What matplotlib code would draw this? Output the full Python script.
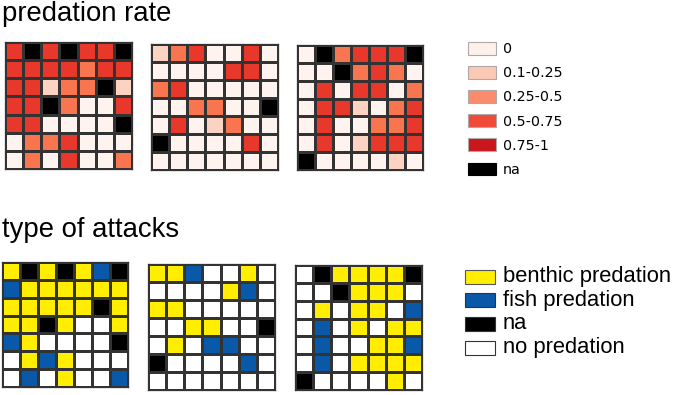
import matplotlib
matplotlib.use("Agg")
import matplotlib.pyplot as plt
from matplotlib.colors import ListedColormap, BoundaryNorm
from matplotlib.patches import Rectangle
import numpy as np

W, H = 674, 395

# predation rate classes: 0='0', 1='0.1-0.25', 2='0.25-0.5', 3='0.5-0.75', 4='0.75-1', 5='na'
rate_labels = ["0", "0.1-0.25", "0.25-0.5", "0.5-0.75", "0.75-1", "na"]
rate_grid_colors = ["#fef3ee", "#fcd3c2", "#f8754f", "#e8382b", "#c8161d", "#000000"]
rate_legend_colors = ["#fef0ea", "#fcc9b5", "#fb8b6d", "#f04a38", "#c9171d", "#000000"]

rate_1 = [
    [3, 5, 3, 5, 3, 3, 5],
    [3, 3, 3, 3, 2, 3, 3],
    [3, 3, 1, 2, 2, 5, 1],
    [3, 3, 5, 2, 0, 0, 3],
    [3, 3, 0, 0, 0, 0, 5],
    [0, 2, 2, 3, 0, 0, 0],
    [0, 2, 0, 3, 0, 0, 2],
]
rate_2 = [
    [1, 2, 3, 0, 0, 3, 0],
    [0, 0, 0, 0, 3, 3, 0],
    [2, 3, 0, 0, 0, 0, 0],
    [0, 0, 2, 2, 0, 0, 5],
    [0, 3, 0, 1, 2, 0, 0],
    [5, 0, 0, 0, 0, 3, 0],
    [0, 0, 0, 0, 0, 0, 0],
]
rate_3 = [
    [0, 5, 2, 3, 3, 3, 5],
    [0, 0, 5, 2, 3, 2, 0],
    [0, 3, 0, 3, 3, 0, 2],
    [0, 3, 3, 1, 0, 2, 3],
    [0, 3, 0, 0, 2, 2, 3],
    [0, 3, 0, 1, 3, 3, 3],
    [5, 0, 0, 0, 0, 1, 0],
]

# type of attack: 0=no predation, 1=benthic, 2=fish, 3=na
attack_labels = ["no predation", "benthic predation", "fish predation", "na"]
attack_colors = ["#ffffff", "#ffee00", "#0a58a8", "#000000"]
attack_legend_order = [1, 2, 3, 0]

attack_1 = [
    [1, 3, 1, 3, 1, 2, 3],
    [2, 1, 1, 1, 1, 1, 1],
    [1, 1, 1, 1, 1, 3, 1],
    [1, 1, 3, 1, 0, 0, 1],
    [2, 1, 0, 0, 0, 0, 3],
    [0, 1, 2, 1, 0, 0, 0],
    [0, 2, 0, 1, 0, 0, 2],
]
attack_2 = [
    [1, 1, 2, 0, 0, 1, 0],
    [0, 0, 0, 0, 1, 2, 0],
    [1, 1, 0, 0, 0, 0, 0],
    [0, 0, 1, 1, 0, 0, 3],
    [0, 1, 0, 2, 2, 0, 0],
    [3, 0, 0, 0, 0, 2, 0],
    [0, 0, 0, 0, 0, 0, 0],
]
attack_3 = [
    [0, 3, 1, 1, 1, 1, 3],
    [0, 0, 3, 1, 1, 1, 0],
    [0, 1, 0, 1, 1, 0, 2],
    [0, 2, 0, 1, 0, 1, 1],
    [0, 2, 0, 0, 1, 1, 2],
    [0, 2, 0, 1, 1, 1, 1],
    [3, 0, 0, 0, 0, 1, 0],
]

fig = plt.figure(figsize=(W / 100, H / 100), dpi=100)


def px_axes(x, y, w, h):
    return fig.add_axes([x / W, 1 - (y + h) / H, w / W, h / H])


def draw_grid(rect, data, colors):
    ax = px_axes(*rect)
    arr = np.array(data)
    n = len(colors)
    cmap = ListedColormap(colors)
    norm = BoundaryNorm(np.arange(-0.5, n + 0.5), n)
    ax.pcolormesh(arr, cmap=cmap, norm=norm, edgecolors="#333333", linewidth=0.8)
    ax.set_xlim(0, arr.shape[1])
    ax.set_ylim(arr.shape[0], 0)
    ax.set_xticks([])
    ax.set_yticks([])
    for s in ax.spines.values():
        s.set_color("#333333")
        s.set_linewidth(0.9)


# titles
fig.text(2 / W, 1 - 21 / H, "predation rate", fontsize=19.8, family="Liberation Sans",
         ha="left", va="baseline")
fig.text(2 / W, 1 - 237 / H, "type of attacks", fontsize=19.8, family="Liberation Sans",
         ha="left", va="baseline")

# predation rate grids
draw_grid((5, 42, 127, 127), rate_1, rate_grid_colors)
draw_grid((151, 44, 127, 126), rate_2, rate_grid_colors)
draw_grid((297, 45, 126, 125), rate_3, rate_grid_colors)

# attack grids
draw_grid((2, 262, 126, 125), attack_1, attack_colors)
draw_grid((148, 264, 127, 126), attack_2, attack_colors)
draw_grid((295, 265, 127, 125), attack_3, attack_colors)

# legend 1
for i, (lab, col) in enumerate(zip(rate_labels, rate_legend_colors)):
    yc = 48 + i * 24.2
    fig.patches.append(Rectangle((468 / W, 1 - (yc + 6.5) / H), 28 / W, 13 / H,
                                 transform=fig.transFigure, facecolor=col,
                                 edgecolor="#b0a8a8" if i < 5 else "#000000", linewidth=0.8))
    fig.text(503 / W, 1 - (yc + 1) / H, lab, fontsize=10.3, family="DejaVu Sans",
             ha="left", va="center")

# legend 2
for i, k in enumerate(attack_legend_order):
    yc = 276.5 + i * 23.7
    fig.patches.append(Rectangle((465 / W, 1 - (yc + 7) / H), 30 / W, 14 / H,
                                 transform=fig.transFigure, facecolor=attack_colors[k],
                                 edgecolor="#333333" if k != 1 else "#555555", linewidth=0.8))
    fig.text(503 / W, 1 - yc / H, attack_labels[k], fontsize=15.8, family="Liberation Sans",
             ha="left", va="center")

fig.savefig("out.png", dpi=100)
